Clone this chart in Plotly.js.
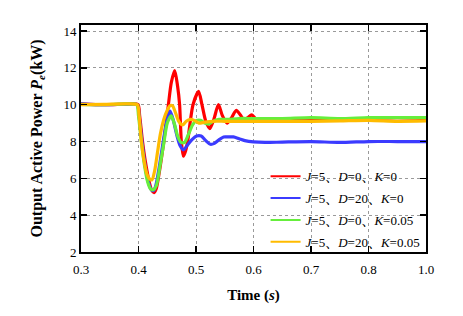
<!DOCTYPE html>
<html>
<head>
<meta charset="utf-8">
<script src="https://cdn.plot.ly/plotly-3.0.1.min.js"></script>
<style>html,body{margin:0;padding:0;background:#fff;}#chart{width:463px;height:316px;}</style>
</head>
<body>
<div id="chart"></div>
<script>
// Series names
const seriesNames = [
  "<i>J</i>=5、<i>D</i>=0、<i>K</i>=0",
  "<i>J</i>=5、<i>D</i>=20、<i>K</i>=0",
  "<i>J</i>=5、<i>D</i>=0、<i>K</i>=0.05",
  "<i>J</i>=5、<i>D</i>=20、<i>K</i>=0.05"
];
const seriesColors = ["#ff0000", "#3b3bff", "#66ee3c", "#ffbb00"];

// Time (s) and output active power Pe (kW) for each series
const tRed = [0.300,0.340,0.380,0.399,0.402,0.407,0.412,0.418,0.423,0.427,0.431,0.437,0.444,0.452,0.457,0.463,0.468,0.4715,0.4745,0.478,0.482,0.4854,0.4948,0.5045,0.5104,0.517,0.524,0.531,0.539,0.546,0.554,0.562,0.570,0.577,0.584,0.590,0.597,0.605,0.615,0.630,0.660,0.700,0.750,0.800,0.850,0.900];
const pRed = [10.05,10.0,10.03,10.02,9.4,8.0,6.9,5.9,5.35,5.22,5.45,6.5,8.0,10.0,11.2,11.85,11.0,10.0,8.0,7.2,7.5,8.0,10.0,10.72,10.0,9.1,8.7,9.2,10.0,9.4,9.0,9.3,9.7,9.45,9.15,9.3,9.45,9.2,9.25,9.2,9.25,9.2,9.25,9.25,9.3,9.25];

const tBlue = [0.300,0.340,0.380,0.398,0.401,0.406,0.411,0.417,0.422,0.426,0.430,0.436,0.443,0.449,0.455,0.461,0.467,0.472,0.478,0.485,0.493,0.501,0.509,0.517,0.525,0.532,0.540,0.548,0.556,0.565,0.575,0.585,0.600,0.620,0.650,0.700,0.750,0.800,0.850,0.900];
const pBlue = [10.05,10.0,10.02,10.0,9.4,8.0,6.8,5.8,5.4,5.33,5.6,6.6,8.0,9.1,9.65,9.1,8.3,7.8,7.55,7.8,8.1,8.3,8.3,8.05,7.85,7.9,8.1,8.25,8.25,8.25,8.15,8.05,7.98,7.95,7.97,8.0,7.95,8.0,8.0,8.0];

const tGreen = [0.300,0.340,0.380,0.397,0.400,0.405,0.410,0.416,0.421,0.426,0.431,0.437,0.444,0.450,0.457,0.463,0.468,0.474,0.480,0.487,0.494,0.501,0.508,0.515,0.522,0.530,0.540,0.555,0.575,0.600,0.650,0.700,0.750,0.800,0.850,0.900];
const pGreen = [10.02,10.0,10.05,10.0,9.4,8.0,6.8,5.8,5.42,5.38,5.6,6.6,7.9,9.0,9.4,8.9,8.3,7.95,7.95,8.4,8.9,9.15,9.15,9.0,8.95,9.1,9.2,9.2,9.25,9.25,9.25,9.3,9.25,9.3,9.3,9.3];

const tOrange = [0.300,0.340,0.380,0.398,0.401,0.405,0.410,0.415,0.420,0.4235,0.428,0.433,0.438,0.444,0.450,0.455,0.459,0.464,0.470,0.4767,0.483,0.490,0.497,0.505,0.515,0.530,0.550,0.580,0.620,0.660,0.700,0.750,0.800,0.850,0.900];
const pOrange = [10.0,10.02,10.05,10.0,9.4,8.0,6.9,6.2,5.95,5.92,6.4,7.4,8.4,9.2,9.7,9.95,9.95,9.6,9.1,8.9,9.1,9.2,9.15,9.0,9.05,9.1,9.1,9.1,9.1,9.1,9.1,9.12,9.15,9.1,9.12];

// Axis ticks
const xTickVals = [0.3,0.4,0.5,0.6,0.7,0.8,0.9];
const xTickText = ["0.3","0.4","0.5","0.6","0.7","0.8","1.0"];
const yTickVals = [2,4,6,8,10,12,14];

const serif = "Liberation Serif, Times New Roman, Noto Serif CJK SC, Noto Sans CJK SC, serif";
const tList = [tRed, tBlue, tGreen, tOrange];
const pList = [pRed, pBlue, pGreen, pOrange];

const traces = [];
for (let i = 0; i < 4; i++) {
  traces.push({
    type: "scatter", mode: "lines", x: tList[i], y: pList[i],
    line: {color: seriesColors[i], width: 3.2, shape: "spline", smoothing: 0.7},
    showlegend: false, hoverinfo: "skip"
  });
}
for (let i = 0; i < 4; i++) {
  traces.push({
    type: "scatter", mode: "lines", x: [null], y: [null],
    name: seriesNames[i], legendgroup: "g" + i,
    line: {color: seriesColors[i], width: 2}
  });
}

const layout = {
  width: 463, height: 316,
  margin: {l: 81, r: 37, t: 25, b: 64, pad: 0},
  paper_bgcolor: "#fff", plot_bgcolor: "#fff",
  font: {family: serif, size: 13, color: "#000"},
  showlegend: true,
  legend: {
    x: 0.535, y: 0.40, xanchor: "left", yanchor: "top",
    bgcolor: "rgba(0,0,0,0)", borderwidth: 0,
    font: {family: serif, size: 13, color: "#000"},
    traceorder: "grouped", tracegroupgap: 2
  },
  xaxis: {
    range: [0.3, 0.9], tickvals: xTickVals, ticktext: xTickText,
    showgrid: true, gridcolor: "#9a9a9a", griddash: "dot", gridwidth: 1,
    showline: true, linecolor: "#000", linewidth: 2, mirror: "ticks",
    ticks: "inside", ticklen: 6, tickwidth: 1.5, tickcolor: "#000",
    zeroline: false, ticklabelstandoff: 4,
    tickfont: {family: serif, size: 13, color: "#000"},
    title: {text: "<b>Time (<i>s</i>)</b>", font: {family: serif, size: 15, color: "#000"}, standoff: 14}
  },
  yaxis: {
    range: [2, 14.33], tickvals: yTickVals,
    showgrid: true, gridcolor: "#9a9a9a", griddash: "dot", gridwidth: 1,
    showline: true, linecolor: "#000", linewidth: 2, mirror: "ticks",
    ticks: "inside", ticklen: 6, tickwidth: 1.5, tickcolor: "#000",
    zeroline: false,
    tickfont: {family: serif, size: 13, color: "#000"},
    title: {text: "<b>Output Active Power <i>P</i><sub><i>e</i></sub>(kW)</b>", font: {family: serif, size: 16, color: "#000"}, standoff: 17}
  }
};

Plotly.newPlot("chart", traces, layout, {displayModeBar: false, staticPlot: true});
</script>
</body>
</html>
